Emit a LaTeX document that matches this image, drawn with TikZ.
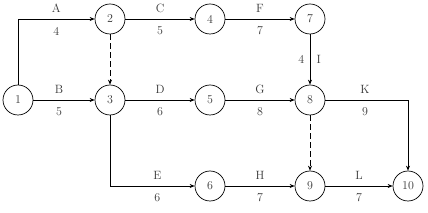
\documentclass[tikz,border=0pt]{standalone}
\usepackage{tikz}
\usetikzlibrary{arrows.meta,positioning,calc}
\definecolor{txtgray}{HTML}{383838}
\tikzset{
  ev/.style={circle, draw, line width=0.7pt, minimum size=30pt, inner sep=0pt, text=txtgray},
  act/.style={-{Stealth[length=5pt,width=4pt]}, line width=0.7pt},
  dum/.style={act, dash pattern=on 6pt off 3pt},
  lbltop/.style={yshift=11pt, text=txtgray},
  lblbot/.style={yshift=-12pt, text=txtgray},
}

\begin{document}
\begin{tikzpicture}[x=1pt, y=-1pt, font=\fontsize{12}{14}\selectfont]
\useasboundingbox (0,0) rectangle (428,213);
% events
\node[ev] (n1) at (18,100) {1};
\node[ev] (n2) at (110,19) {2};
\node[ev] (n3) at (110,100) {3};
\node[ev] (n4) at (210,19) {4};
\node[ev] (n5) at (210,100) {5};
\node[ev] (n6) at (210,186) {6};
\node[ev] (n7) at (310,19) {7};
\node[ev] (n8) at (310,100) {8};
\node[ev] (n9) at (310,186) {9};
\node[ev] (n10) at (408,186) {10};
% activities
\draw[act] (n1) |- (n2) node[pos=0.75, lbltop] {A} node[pos=0.75, lblbot] {4};
\draw[act] (n1) -- (n3) node[midway, lbltop, xshift=-5pt] {B} node[midway, lblbot, xshift=-5pt] {5};
\draw[dum] (n2) -- (n3);
\draw[act] (n2) -- (n4) node[midway, lbltop] {C} node[midway, lblbot] {5};
\draw[act] (n3) -- (n5) node[midway, lbltop] {D} node[midway, lblbot] {6};
\draw[act] (n3) |- (n6) node[pos=0.78, lbltop] {E} node[pos=0.78, lblbot] {6};
\draw[act] (n4) -- (n7) node[midway, lbltop] {F} node[midway, lblbot] {7};
\draw[act] (n5) -- (n8) node[midway, lbltop] {G} node[midway, lblbot] {8};
\draw[act] (n6) -- (n9) node[midway, lbltop] {H} node[midway, lblbot] {7};
\draw[act] (n7) -- (n8) node[midway, left=2pt, text=txtgray] {4} node[midway, right=3pt, text=txtgray] {I};
\draw[dum] (n8) -- (n9);
\draw[act] (n8) -| (n10) node[pos=0.24, lbltop] {K} node[pos=0.24, lblbot] {9};
\draw[act] (n9) -- (n10) node[midway, lbltop] {L} node[midway, lblbot] {7};
\end{tikzpicture}
\end{document}
